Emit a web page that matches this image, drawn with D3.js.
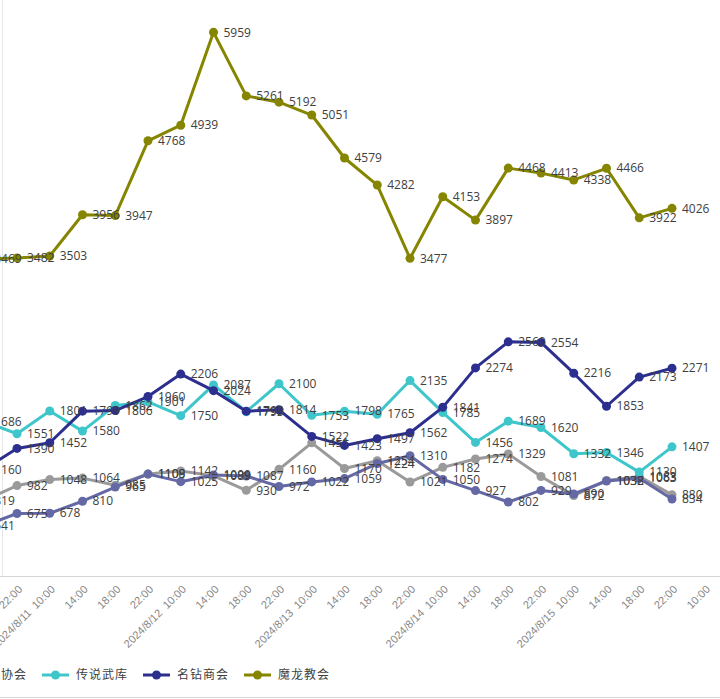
<!DOCTYPE html>
<html>
<head>
<meta charset="utf-8">
<script src="https://cdn.jsdelivr.net/npm/d3@7"></script>
<style>
  body { margin: 0; background: #fff; }
  svg { display: block; }
</style>
</head>
<body>
<div id="chart"></div>
<script>
// Hourly counts per guild, chart is shown cropped on the left like the source picture
const categories = ["18:00", "22:00", "2024/8/11  10:00", "14:00", "18:00", "22:00",
  "2024/8/12  10:00", "14:00", "18:00", "22:00", "2024/8/13  10:00", "14:00", "18:00", "22:00",
  "2024/8/14  10:00", "14:00", "18:00", "22:00", "2024/8/15  10:00", "14:00", "18:00", "22:00", "10:00"];

const grayValues  = [819, 982, 1048, 1064, 985, 1109, 1142, 1089, 930, 1160, 1451, 1170, 1254, 1021, 1182, 1274, 1329, 1081, 872, 1038, 1083, 880];
const slateValues = [541, 675, 678, 810, 965, 1108, 1025, 1099, 1087, 972, 1022, 1059, 1224, 1310, 1050, 927, 802, 929, 890, 1032, 1063, 834];
const cyanValues  = [1686, 1551, 1801, 1580, 1862, 1901, 1750, 2087, 1793, 2100, 1753, 1798, 1765, 2135, 1785, 1456, 1689, 1620, 1332, 1346, 1130, 1407];
const navyValues  = [1160, 1390, 1452, 1799, 1806, 1960, 2206, 2024, 1799, 1814, 1522, 1423, 1497, 1562, 1841, 2274, 2560, 2554, 2216, 1853, 2173, 2271];
const oliveValues = [3469, 3482, 3503, 3956, 3947, 4768, 4939, 5959, 5261, 5192, 5051, 4579, 4282, 3477, 4153, 3897, 4468, 4413, 4338, 4466, 3922, 4026];

const seriesNames = ["公会协会", "公民协会", "传说武库", "名钻商会", "魔龙教会"];
const seriesColors = ["#9a9a9a", "#6468a4", "#3ec6ca", "#2c2f8e", "#858500"];
const seriesValues = [grayValues, slateValues, cyanValues, navyValues, oliveValues];

const width = 720;
const height = 699;

const svg = d3.select("#chart")
  .append("svg")
  .attr("width", width)
  .attr("height", height);

const x = d3.scalePoint().domain(d3.range(categories.length)).range([-15.75, 704.75]);
const y = d3.scaleLinear().domain([0, 6000]).range([575, 28.6]);

// faint value axis at the cut left edge
svg.append("line")
  .attr("x1", 2.5).attr("x2", 2.5)
  .attr("y1", 0).attr("y2", 576)
  .attr("stroke", "#e6e6e6");

// category axis line and chart border
svg.append("line")
  .attr("x1", 0).attr("x2", width)
  .attr("y1", 576.5).attr("y2", 576.5)
  .attr("stroke", "#d4d4d4")
  .attr("stroke-width", 1);

svg.append("line")
  .attr("x1", 0).attr("x2", width)
  .attr("y1", 697.5).attr("y2", 697.5)
  .attr("stroke", "#d4d4d4");

const xAxis = svg.append("g");
xAxis.selectAll("text")
  .data(categories)
  .enter()
  .append("text")
  .attr("transform", (d, i) => `translate(${x(i) + 6},590) rotate(-45)`)
  .attr("text-anchor", "end")
  .attr("font-family", "Liberation Sans, Arial, sans-serif")
  .attr("font-size", "11px")
  .attr("fill", "#868686")
  .style("white-space", "pre")
  .text(d => d);

const line = d3.line()
  .x((d, i) => x(i))
  .y(d => y(d));

const seriesLayer = svg.append("g");
seriesValues.forEach((vals, s) => {
  const g = seriesLayer.append("g");
  g.append("path")
    .datum(vals)
    .attr("d", line)
    .attr("fill", "none")
    .attr("stroke", seriesColors[s])
    .attr("stroke-width", 3)
    .attr("stroke-linejoin", "round");
  g.selectAll("circle")
    .data(vals)
    .enter()
    .append("circle")
    .attr("cx", (d, i) => x(i))
    .attr("cy", d => y(d))
    .attr("r", 4.5)
    .attr("fill", seriesColors[s]);
});

// data labels on top of all lines
const labelLayer = svg.append("g");
seriesValues.forEach(vals => {
  labelLayer.selectAll(null)
    .data(vals)
    .enter()
    .append("text")
    .attr("x", (d, i) => x(i) + 10)
    .attr("y", d => y(d))
    .attr("dy", "0.35em")
    .attr("font-family", "Open Sans, sans-serif")
    .attr("font-size", "12px")
    .attr("fill", "#404040")
    .text(d => d);
});

// legend, first entries fall off the left edge
const legend = svg.append("g").attr("transform", "translate(0,675)");
const legendStart = -160;
const legendStep = 101;
seriesNames.forEach((name, s) => {
  const lx = legendStart + s * legendStep;
  legend.append("line")
    .attr("x1", lx).attr("x2", lx + 27)
    .attr("y1", 0).attr("y2", 0)
    .attr("stroke", seriesColors[s])
    .attr("stroke-width", 3);
  legend.append("circle")
    .attr("cx", lx + 13.5).attr("cy", 0)
    .attr("r", 4.5)
    .attr("fill", seriesColors[s]);
  legend.append("text")
    .attr("x", lx + 34)
    .attr("y", 0)
    .attr("dy", "0.36em")
    .attr("font-family", "Noto Sans CJK SC, sans-serif")
    .attr("font-size", "12px")
    .attr("letter-spacing", "1px")
    .attr("fill", "#404040")
    .text(name);
});
</script>
</body>
</html>
